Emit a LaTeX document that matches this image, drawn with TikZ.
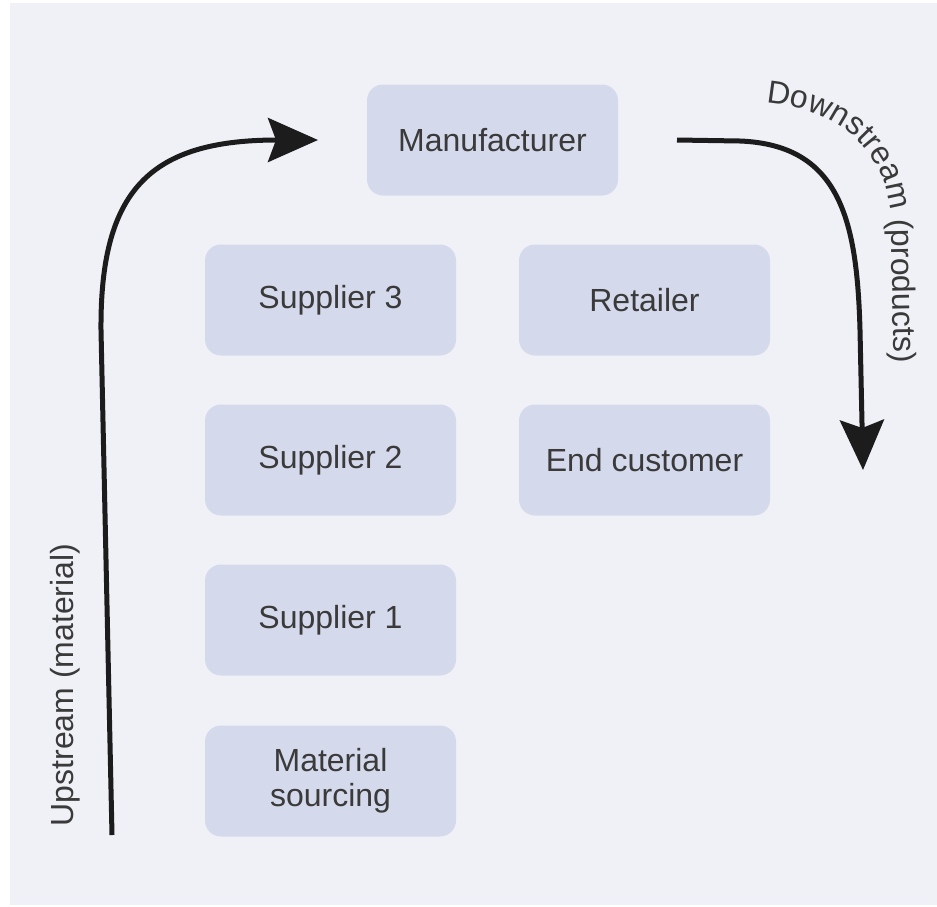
\documentclass[tikz,border=0pt]{standalone}
\usepackage{fontspec}
\setmainfont{Liberation Sans}
\usetikzlibrary{arrows.meta,decorations.text}
\definecolor{bgpanel}{RGB}{240,241,247}
\definecolor{boxfill}{RGB}{213,217,236}
\definecolor{labeltext}{RGB}{58,58,58}
\definecolor{arrowink}{RGB}{28,28,28}
\newcommand{\chainfont}{\fontsize{32}{35}\selectfont}
\begin{document}
\begin{tikzpicture}[x=1pt,y=-1pt,
  stage/.style={fill=boxfill,rounded corners=16pt,minimum width=251pt,minimum height=111pt,align=center,text=labeltext,font=\chainfont},
  flow/.style={arrowink,line width=5pt,line join=round,-{Stealth[length=50pt,width=44pt,inset=8pt]}}]
\useasboundingbox (0,0) rectangle (937,906);
\fill[white] (0,0) rectangle (937,906);
\fill[bgpanel] (10,3) rectangle (937,905); %panel

\node[stage] (man)  at (492.5,140) {Manufacturer};
\node[stage] (sup3) at (330.5,300) {Supplier 3};
\node[stage] (ret)  at (644.5,300) {Retailer};
\node[stage] (sup2) at (330.5,460) {Supplier 2};
\node[stage] (endc) at (644.5,460) {End customer};
\node[stage] (sup1) at (330.5,620) {Supplier 1};
\node[stage] (mat)  at (330.5,781) {Material\\sourcing};

% upstream
\coordinate (upfrom) at (112,835);
\coordinate (upto)   at (318,140);
\draw[flow] (upfrom) -- (101,330) .. controls (100,190) and (150,140) .. (upto);
\node[rotate=90,text=labeltext,font=\chainfont] (uplabel) at (65,685) {Upstream (material)};

% downstream
\coordinate (downfrom) at (677,140);
\coordinate (downto)   at (863,470);
\draw[flow] (downfrom) -- (740,141) .. controls (840,145) and (857,220) .. (860,330) -- (downto);
\path[decorate,decoration={text along path,text align=left,
  text={|\chainfont\color{labeltext}|Downstream (products)}}]
  (766,103) .. controls (850,110) and (889,160) .. (891,222) -- (895,430);
\end{tikzpicture}
\end{document}
